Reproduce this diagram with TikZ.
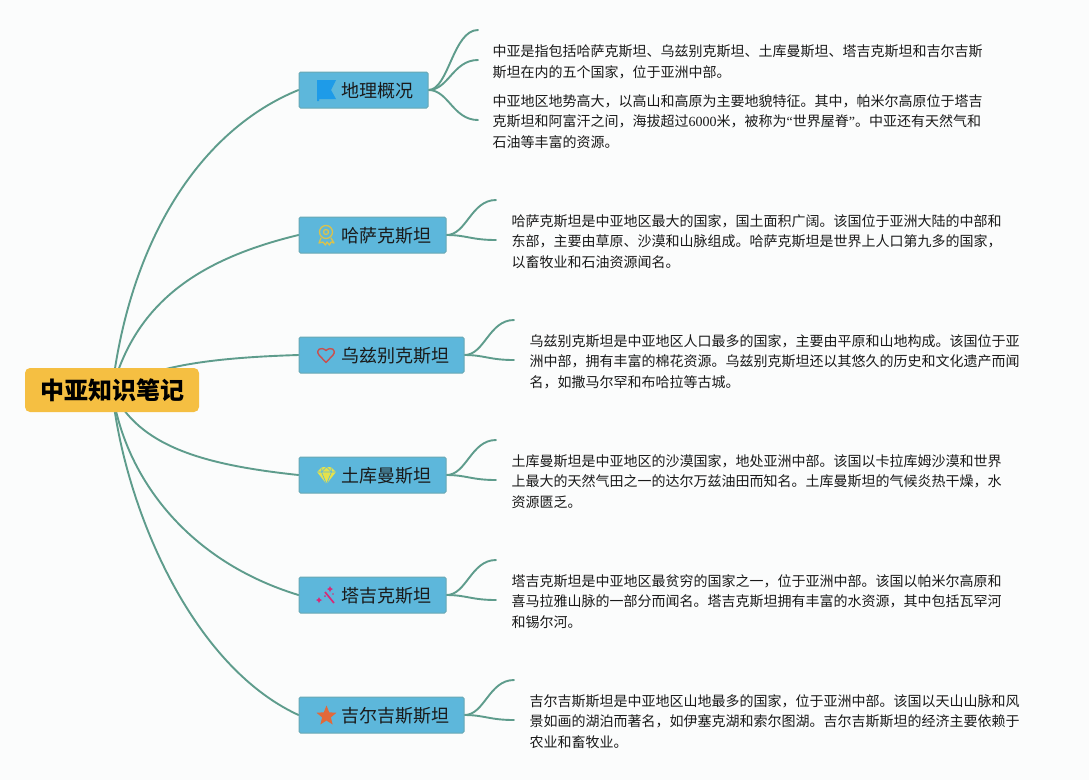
\documentclass[tikz,border=0pt]{standalone}
\usepackage{fontspec}
\setmainfont{Noto Sans CJK SC}
\newfontfamily\digitfont{Liberation Serif}
\usetikzlibrary{backgrounds,shapes.geometric}
\definecolor{pagebg}{HTML}{FBFCFC}
\definecolor{linkc}{HTML}{5E9C8C}
\definecolor{topicfill}{HTML}{5DB7DB}
\definecolor{topicedge}{HTML}{68A8B4}
\definecolor{rootfill}{HTML}{F5BF42}
\definecolor{inkc}{HTML}{1A1A1A}
\definecolor{flagc}{HTML}{1E9BE8}
\definecolor{medalc}{HTML}{D9C24E}
\definecolor{heartc}{HTML}{C8504F}
\definecolor{gemc}{HTML}{E6E24A}
\definecolor{wandc}{HTML}{D62A78}
\definecolor{starc}{HTML}{E2693A}
\newcommand{\myopenq}{{\digitfont “}}
\newcommand{\mycloseq}{{\digitfont ”}}
\tikzset{
  x=1pt,y=-1pt,
  rootbox/.style={fill=rootfill,rounded corners=5pt,minimum width=174pt,minimum height=44pt,inner sep=0pt,font=\fontsize{24}{28}\selectfont\bfseries,text=black},
  topicbox/.style={fill=topicfill,draw=topicedge,line width=1pt,rounded corners=1.5pt,minimum height=36pt,inner sep=0pt},
  topictext/.style={anchor=west,inner sep=0pt,font=\fontsize{18}{22}\selectfont,text=inkc},
  notetext/.style={anchor=west,inner sep=0pt,align=left,font=\fontsize{14}{20.5}\selectfont,text=inkc},
  link/.style={draw=linkc,line width=1.9pt,line cap=round},
}
\begin{document}
\begin{tikzpicture}
\useasboundingbox (0,0) rectangle (1089,780);
% topics
\node[rootbox] (root) at (112,390) {中亚知识笔记};
\node[topicbox,minimum width=129pt] (t1) at (363.5,90) {};
\node[topicbox,minimum width=147pt] (t2) at (372.5,235) {};
\node[topicbox,minimum width=165pt] (t3) at (381.5,355) {};
\node[topicbox,minimum width=147pt] (t4) at (372.5,475) {};
\node[topicbox,minimum width=147pt] (t5) at (372.5,595) {};
\node[topicbox,minimum width=165pt] (t6) at (381.5,715) {};
\node[topictext] (l1) at (341.5,91) {地理概况};
\node[topictext] (l2) at (341.5,236) {哈萨克斯坦};
\node[topictext] (l3) at (341.5,356) {乌兹别克斯坦};
\node[topictext] (l4) at (341.5,476) {土库曼斯坦};
\node[topictext] (l5) at (341.5,596) {塔吉克斯坦};
\node[topictext] (l6) at (341.5,716) {吉尔吉斯斯坦};
% notes
\node[notetext] (n1a) at (492.5,62) {中亚是指包括哈萨克斯坦、乌兹别克斯坦、土库曼斯坦、塔吉克斯坦和吉尔吉斯\\斯坦在内的五个国家，位于亚洲中部。};
\node[notetext] (n1b) at (492.5,121.5) {中亚地区地势高大，以高山和高原为主要地貌特征。其中，帕米尔高原位于塔吉\\克斯坦和阿富汗之间，海拔超过{\digitfont 6000}米，被称为\myopenq 世界屋脊\mycloseq 。中亚还有天然气和\\石油等丰富的资源。};
\node[notetext] (n2) at (511.5,241.5) {哈萨克斯坦是中亚地区最大的国家，国土面积广阔。该国位于亚洲大陆的中部和\\东部，主要由草原、沙漠和山脉组成。哈萨克斯坦是世界上人口第九多的国家，\\以畜牧业和石油资源闻名。};
\node[notetext] (n3) at (529.5,361.5) {乌兹别克斯坦是中亚地区人口最多的国家，主要由平原和山地构成。该国位于亚\\洲中部，拥有丰富的棉花资源。乌兹别克斯坦还以其悠久的历史和文化遗产而闻\\名，如撒马尔罕和布哈拉等古城。};
\node[notetext] (n4) at (511.5,481.5) {土库曼斯坦是中亚地区的沙漠国家，地处亚洲中部。该国以卡拉库姆沙漠和世界\\上最大的天然气田之一的达尔万兹油田而知名。土库曼斯坦的气候炎热干燥，水\\资源匮乏。};
\node[notetext] (n5) at (511.5,601.5) {塔吉克斯坦是中亚地区最贫穷的国家之一，位于亚洲中部。该国以帕米尔高原和\\喜马拉雅山脉的一部分而闻名。塔吉克斯坦拥有丰富的水资源，其中包括瓦罕河\\和锡尔河。};
\node[notetext] (n6) at (529.5,721.5) {吉尔吉斯斯坦是中亚地区山地最多的国家，位于亚洲中部。该国以天山山脉和风\\景如画的湖泊而著名，如伊塞克湖和索尔图湖。吉尔吉斯斯坦的经济主要依赖于\\农业和畜牧业。};
% free ends of the branches
\coordinate (e1a) at (478,30);
\coordinate (e1b) at (478,60);
\coordinate (e1c) at (478,120);
\coordinate (e2a) at (496,200);
\coordinate (e2b) at (496,240);
\coordinate (e3a) at (514,320);
\coordinate (e3b) at (514,360);
\coordinate (e4a) at (496,440);
\coordinate (e4b) at (496,480);
\coordinate (e5a) at (496,560);
\coordinate (e5b) at (496,600);
\coordinate (e6a) at (514,680);
\coordinate (e6b) at (514,720);
\begin{scope}[on background layer]
\fill[pagebg] (0,0) rectangle (1089,780);
\draw[link] (root.center) .. controls (130,240) and (200,130) .. (t1.west);
\draw[link] (root.center) .. controls (135,305) and (195,260) .. (t2.west);
\draw[link] (root.center) .. controls (150,368) and (200,358) .. (t3.west);
\draw[link] (root.center) .. controls (138,447) and (205,465) .. (t4.west);
\draw[link] (root.center) .. controls (125,480) and (190,562) .. (t5.west);
\draw[link] (root.center) .. controls (124,505) and (190,665) .. (t6.west);
\foreach \p/\q in {t1/e1a,t1/e1b,t1/e1c,t2/e2a,t2/e2b,t3/e3a,t3/e3b,t4/e4a,t4/e4b,t5/e5a,t5/e5b,t6/e6a,t6/e6b}{
  \draw[link] (\p.east) .. controls ([xshift=20pt]\p.east) and ([xshift=-25pt]\q) .. (\q);
}
\end{scope}
% icons
\fill[flagc] (317,80) -- (336,80) -- (331,90) -- (336,99) -- (319,99) -- (319,101) -- (317,101) -- cycle;
\draw[medalc,line width=1.3pt] (326,232) circle (6.5pt);
\draw[medalc,line width=1.3pt] (326,232) circle (2.5pt);
\draw[medalc,line width=1.3pt,line join=round] (321,238) -- (319,243) -- (323,242) -- (325.5,245) -- (327,242) -- (329.5,245) -- (331,242) -- (334,243) -- (331,238);
\draw[heartc,line width=1.4pt,line join=round] (326,362.5) -- (319,355) .. controls (315,350) and (321,346) .. (326,350.5) .. controls (331,346) and (337,350) .. (333,355) -- cycle;
\fill[gemc] (322,467) -- (331,467) -- (336,472) -- (326.5,484) -- (317,472) -- cycle;
\draw[topicfill,line width=.6pt] (317,472) -- (336,472) (322,467) -- (321.5,472) -- (326.5,484) -- (331.5,472) -- (331,467) (326.5,467) -- (321.5,472) (326.5,467) -- (331.5,472);
\draw[wandc,line width=1.7pt] (325,592) -- (334,603);
\fill[wandc] (319,597) -- (320,599) -- (322,600) -- (320,601) -- (319,603) -- (318,601) -- (316,600) -- (318,599) -- cycle;
\fill[wandc] (330,586) -- (331,588) -- (333,589) -- (331,590) -- (330,592) -- (329,590) -- (327,589) -- (329,588) -- cycle;
\fill[wandc] (325,596) circle (1pt);
\fill[wandc] (333,594) circle (.8pt);
\node[star,star points=5,star point ratio=2.3,fill=starc,minimum size=21pt,inner sep=0pt] (ic6) at (326.5,716) {};
\end{tikzpicture}
\end{document}
